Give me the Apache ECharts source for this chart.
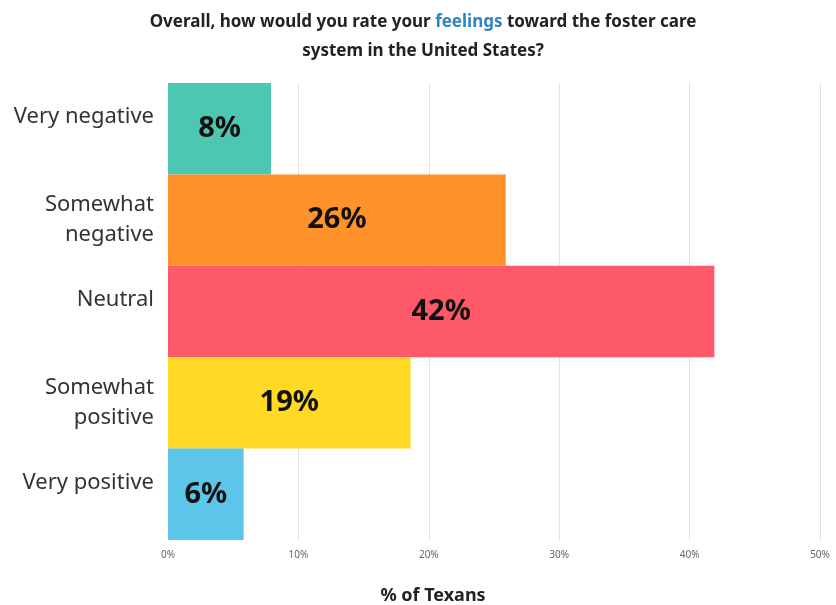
<!DOCTYPE html>
<html>
<head>
<meta charset="utf-8">
<script src="https://cdn.jsdelivr.net/npm/echarts@6/dist/echarts.min.js"></script>
<style>html,body{margin:0;padding:0;background:#fff;}#c{width:836px;height:605px;}</style>
</head>
<body>
<div id="c"></div>
<script>
var categories = ['Very negative', 'Somewhat\nnegative', 'Neutral', 'Somewhat\npositive', 'Very positive'];
var values = [7.9, 25.9, 41.9, 18.6, 5.8];
var barColors = ['#4DC7B1', '#FF9228', '#FF5A6A', '#FFD923', '#5DC5EA'];
var xTicks = [0, 10, 20, 30, 40, 50];

var chart = echarts.init(document.getElementById('c'));
var data = values.map(function (v, i) {
  return { value: v, itemStyle: { color: barColors[i] } };
});
chart.setOption({
  animation: false,
  backgroundColor: '#fff',
  title: {
    text: '{d|Overall, how would you rate your }{b|feelings}{d| toward the foster care}\n{d|system in the United States?}',
    left: 418,
    textAlign: 'center',
    top: 3,
    textStyle: {
      rich: {
        d: { fontFamily: 'Noto Sans', fontWeight: 'bold', fontSize: 17, color: '#222', lineHeight: 29 },
        b: { fontFamily: 'Noto Sans', fontWeight: 'bold', fontSize: 17, color: '#2E86C1', lineHeight: 29 }
      }
    }
  },
  graphic: [{
    type: 'text',
    x: 433,
    y: 596,
    style: { text: '% of Texans', font: 'bold 18px "Noto Sans"', fill: '#222', textAlign: 'center', textVerticalAlign: 'middle' }
  }],
  grid: { left: 168, right: 16, top: 83, bottom: 65, containLabel: false },
  xAxis: {
    type: 'value',
    min: xTicks[0],
    max: xTicks[xTicks.length - 1],
    interval: 10,
    axisLine: { show: false },
    axisTick: { show: false },
    splitLine: { show: true, lineStyle: { color: '#e2e2e2', width: 1 } },
    axisLabel: { formatter: '{value}%', color: '#666', fontSize: 10, fontFamily: 'Noto Sans', margin: 10 }
  },
  yAxis: {
    type: 'category',
    inverse: true,
    data: categories,
    axisLine: { show: false },
    axisTick: { show: false },
    axisLabel: {
      margin: 14,
      formatter: function (v) {
        return v.indexOf('\n') >= 0 ? '{m|' + v.replace('\n', '}\n{m|') + '}' : '{s|' + v + '}';
      },
      rich: {
        m: { fontFamily: 'Noto Sans', fontSize: 22, color: '#333', lineHeight: 30, align: 'right' },
        s: { fontFamily: 'Noto Sans', fontSize: 22, color: '#333', lineHeight: 30, padding: [0, 0, 24, 0], align: 'right' }
      }
    }
  },
  series: [{
    type: 'bar',
    data: data,
    barCategoryGap: 0,
    label: {
      show: true,
      position: 'inside',
      formatter: function (p) { return Math.round(p.value) + '%'; },
      fontFamily: 'Noto Sans',
      fontWeight: 'bold',
      fontSize: 29,
      color: '#111'
    }
  }]
});
</script>
</body>
</html>
